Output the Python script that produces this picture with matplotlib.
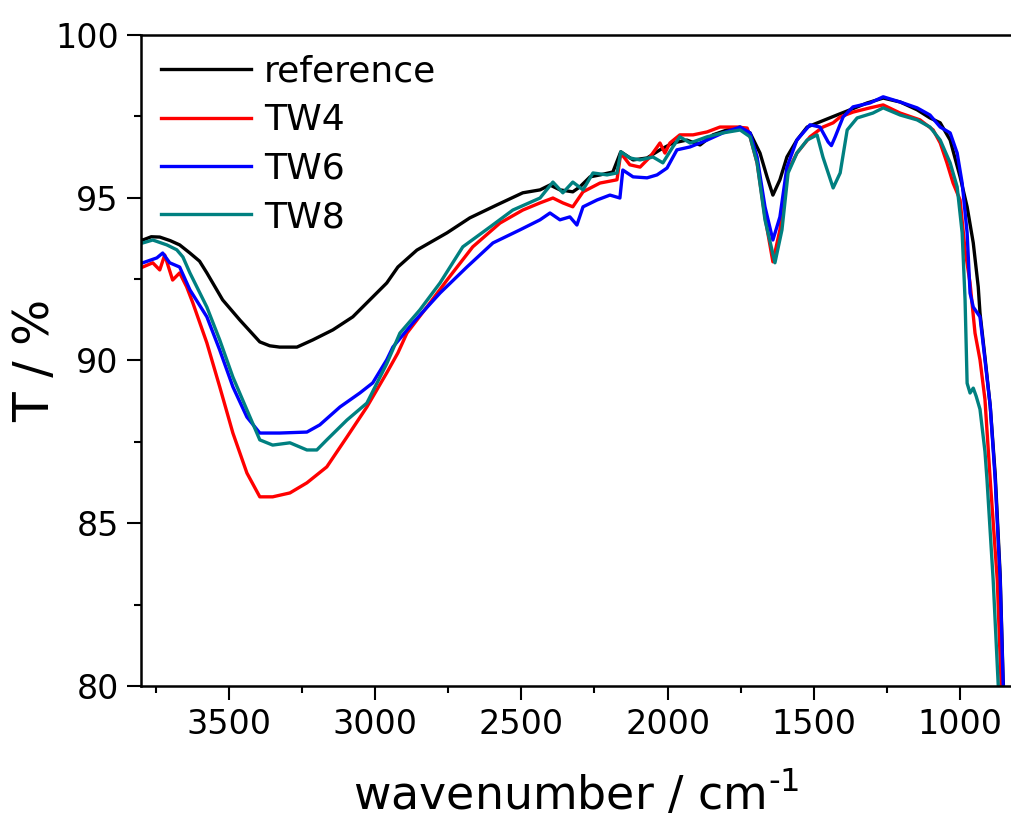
import matplotlib
matplotlib.use("Agg")
import matplotlib.pyplot as plt
from matplotlib.ticker import MultipleLocator

# ── data (wavenumber / cm-1, transmittance / %) ─────────────────────────────
ref_wn = [3800, 3794, 3765, 3736, 3700, 3668, 3633, 3600, 3575, 3521, 3462, 3394,
          3360, 3326, 3267, 3213, 3144, 3076, 3008, 2960, 2922, 2857, 2754, 2676,
          2583, 2495, 2436, 2402, 2368, 2324, 2300, 2265, 2231, 2187, 2160, 2118,
          2070, 2026, 1982, 1934, 1889, 1845, 1797, 1752, 1718, 1684, 1660, 1640,
          1616, 1592, 1558, 1523, 1479, 1421, 1376, 1318, 1263, 1205, 1147, 1103,
          1068, 1034, 1000, 976, 955, 938, 932, 915, 897, 880, 863, 853, 846]
ref_t = [93.72, 93.70, 93.80, 93.79, 93.68, 93.55, 93.30, 93.05, 92.69, 91.86, 91.24, 90.57,
         90.45, 90.41, 90.41, 90.63, 90.94, 91.34, 91.95, 92.38, 92.87, 93.39, 93.92, 94.38,
         94.78, 95.15, 95.24, 95.39, 95.24, 95.18, 95.33, 95.64, 95.70, 95.79, 96.41, 96.16,
         96.22, 96.47, 96.68, 96.77, 96.62, 96.93, 97.08, 97.17, 96.99, 96.37, 95.64, 95.08,
         95.55, 96.25, 96.77, 97.17, 97.33, 97.54, 97.70, 97.91, 98.06, 97.94, 97.70, 97.45,
         97.30, 96.77, 95.64, 94.72, 93.61, 92.26, 91.46, 90.10, 88.60, 86.50, 83.40, 80.20, 79.0]

tw4_wn = [3800, 3794, 3760, 3736, 3719, 3692, 3668, 3644, 3623, 3575, 3531, 3486,
          3438, 3394, 3350, 3291, 3233, 3165, 3096, 3028, 2960, 2922, 2891, 2823,
          2754, 2666, 2573, 2495, 2436, 2392, 2358, 2324, 2289, 2231, 2173, 2160,
          2129, 2094, 2060, 2026, 2009, 1992, 1958, 1913, 1865, 1821, 1763, 1728,
          1718, 1694, 1667, 1640, 1616, 1592, 1558, 1513, 1469, 1434, 1410, 1366,
          1308, 1263, 1205, 1137, 1092, 1068, 1045, 1024, 1000, 983, 966, 949,
          932, 915, 897, 873, 860, 853]
tw4_t = [92.85, 92.87, 93.00, 92.78, 93.24, 92.47, 92.69, 92.26, 91.77, 90.54, 89.19, 87.77,
         86.54, 85.81, 85.81, 85.93, 86.24, 86.73, 87.65, 88.57, 89.62, 90.23, 90.84, 91.64,
         92.47, 93.49, 94.22, 94.62, 94.84, 94.99, 94.84, 94.72, 95.18, 95.45, 95.55, 96.37,
         96.01, 95.94, 96.25, 96.68, 96.37, 96.68, 96.93, 96.93, 97.02, 97.17, 97.17, 97.14,
         96.87, 96.07, 94.41, 93.03, 94.01, 95.76, 96.37, 96.87, 97.17, 97.30, 97.48, 97.63,
         97.76, 97.85, 97.60, 97.39, 97.08, 96.68, 96.07, 95.45, 94.93, 93.39, 92.38, 90.84,
         90.02, 88.80, 86.33, 83.26, 80.09, 79.0]

tw6_wn = [3800, 3794, 3746, 3726, 3702, 3668, 3633, 3575, 3531, 3486, 3438, 3394,
          3326, 3233, 3189, 3120, 3052, 3008, 2960, 2939, 2871, 2778, 2686, 2597,
          2505, 2436, 2402, 2368, 2334, 2310, 2289, 2241, 2197, 2163, 2153, 2118,
          2070, 2036, 2002, 1968, 1923, 1865, 1811, 1752, 1718, 1694, 1667, 1640,
          1616, 1592, 1558, 1513, 1479, 1451, 1440, 1427, 1400, 1366, 1308, 1263,
          1205, 1147, 1103, 1068, 1034, 1010, 993, 976, 966, 955, 932, 915,
          897, 880, 863, 853, 846]
tw6_t = [92.98, 93.00, 93.15, 93.30, 93.00, 92.87, 92.17, 91.34, 90.32, 89.19, 88.26, 87.77,
         87.77, 87.80, 88.02, 88.57, 89.00, 89.31, 90.02, 90.41, 91.15, 92.07, 92.87, 93.61,
         94.01, 94.32, 94.53, 94.32, 94.41, 94.16, 94.72, 94.93, 95.08, 94.99, 95.85, 95.64,
         95.61, 95.70, 95.91, 96.47, 96.56, 96.77, 96.99, 97.17, 96.99, 96.25, 94.72, 93.70,
         94.41, 95.94, 96.77, 97.24, 97.17, 96.71, 96.60, 96.87, 97.48, 97.79, 97.91, 98.10,
         97.94, 97.76, 97.54, 97.17, 96.99, 96.37, 95.45, 93.92, 92.07, 91.64, 91.34, 90.02,
         88.60, 86.33, 83.26, 80.09, 79.0]

tw8_wn = [3800, 3794, 3760, 3712, 3678, 3657, 3633, 3575, 3531, 3486, 3438, 3394,
          3350, 3291, 3233, 3199, 3165, 3096, 3028, 2960, 2915, 2847, 2778, 2700,
          2607, 2529, 2436, 2392, 2358, 2324, 2289, 2255, 2207, 2173, 2160, 2129,
          2094, 2050, 2016, 1982, 1958, 1923, 1865, 1811, 1752, 1718, 1694, 1667,
          1633, 1609, 1588, 1558, 1523, 1489, 1469, 1434, 1410, 1386, 1352, 1298,
          1263, 1205, 1147, 1103, 1068, 1034, 1010, 993, 983, 976, 966, 955,
          945, 932, 915, 908, 887, 870, 863]
tw8_t = [93.60, 93.61, 93.70, 93.55, 93.40, 93.18, 92.69, 91.64, 90.63, 89.49, 88.48, 87.56,
         87.40, 87.47, 87.25, 87.25, 87.56, 88.17, 88.69, 89.90, 90.84, 91.55, 92.38, 93.49,
         94.10, 94.62, 94.99, 95.48, 95.15, 95.48, 95.24, 95.76, 95.70, 95.76, 96.41, 96.22,
         96.16, 96.25, 96.07, 96.56, 96.87, 96.68, 96.87, 96.99, 97.08, 96.87, 96.07, 94.32,
         93.00, 94.01, 95.76, 96.37, 96.77, 96.93, 96.25, 95.30, 95.76, 97.08, 97.45, 97.60,
         97.76, 97.54, 97.39, 97.17, 96.77, 96.07, 95.33, 93.92, 91.86, 89.30, 89.00, 89.15,
         88.90, 88.50, 87.20, 86.33, 83.26, 80.09, 79.0]

series = [
    ("reference", ref_wn, ref_t, "black"),
    ("TW4", tw4_wn, tw4_t, "#ff0000"),
    ("TW6", tw6_wn, tw6_t, "#0000ff"),
    ("TW8", tw8_wn, tw8_t, "#008080"),
]

plt.rcParams["font.family"] = "DejaVu Sans"

fig = plt.figure(figsize=(10.11, 8.22), dpi=100)
ax = fig.add_axes([0.1395, 0.1655, 0.8605, 0.7920])

for label, wn, t, color in series:
    ax.plot(wn, t, color=color, linewidth=2.4, label=label)

ax.set_xlim(3800, 826)
ax.set_ylim(80, 100)
ax.xaxis.set_major_locator(MultipleLocator(500))
ax.xaxis.set_minor_locator(MultipleLocator(250))
ax.yaxis.set_major_locator(MultipleLocator(5))
ax.yaxis.set_minor_locator(MultipleLocator(2.5))
ax.set_xticks([3500, 3000, 2500, 2000, 1500, 1000])

ax.spines["right"].set_visible(False)
for s in ("left", "bottom", "top"):
    ax.spines[s].set_linewidth(1.8)
ax.tick_params(which="both", direction="out", width=1.5, labelsize=24, top=False, right=False)
ax.tick_params(which="major", length=10, pad=6)
ax.tick_params(which="minor", length=5)

ax.set_xlabel("wavenumber / cm$^{\\text{-1}}$", fontsize=33)
ax.xaxis.set_label_coords(0.5, -0.13)
ax.set_ylabel("T / %", fontsize=35)
ax.yaxis.set_label_coords(-0.094, 0.5)

ax.legend(loc="upper left", frameon=False, fontsize=26, handlelength=2.5,
          handletextpad=0.35, labelspacing=0.4, borderaxespad=0.15,
          bbox_to_anchor=(0.0, 1.0))

fig.savefig("out.png", dpi=100, facecolor="white")
